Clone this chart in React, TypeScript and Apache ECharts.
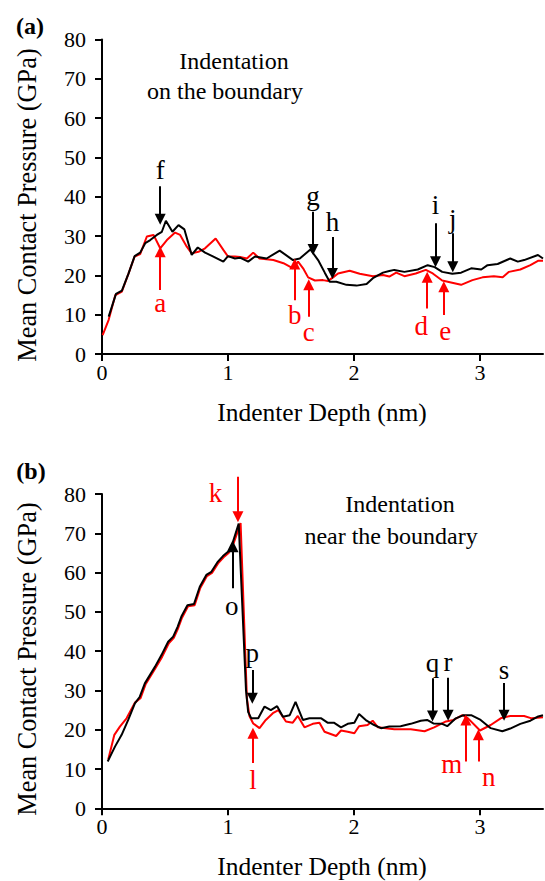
import React, { useEffect, useRef } from "react";
import * as echarts from "echarts";

// ---------- data: [depth (nm), mean contact pressure (GPa)] ----------
const topRed: number[][] = [
  [0.005, 4.8], [0.053, 8.7], [0.106, 15.0], [0.158, 15.9], [0.211, 20.5], [0.259, 24.8], [0.303, 25.4],
  [0.356, 29.9], [0.409, 30.3], [0.462, 26.9], [0.515, 29.0], [0.58, 30.9], [0.62, 30.3], [0.673, 27.3],
  [0.712, 25.6], [0.765, 26.0], [0.818, 26.9], [0.902, 29.4], [0.963, 26.5], [1.0, 24.8], [1.055, 24.8],
  [1.095, 24.7], [1.15, 24.3], [1.2, 25.8], [1.25, 24.3], [1.36, 23.9], [1.44, 23.1], [1.516, 21.8],
  [1.556, 23.5], [1.596, 21.8], [1.636, 19.5], [1.69, 18.7], [1.754, 18.8], [1.794, 18.6], [1.834, 19.5],
  [1.873, 20.5], [1.966, 21.2], [2.045, 20.4], [2.15, 19.8], [2.23, 20.1], [2.28, 19.7], [2.335, 20.7],
  [2.4, 19.8], [2.49, 20.5], [2.57, 21.4], [2.625, 20.5], [2.7, 18.7], [2.77, 18.2], [2.85, 17.6],
  [2.94, 18.8], [3.02, 19.5], [3.11, 19.8], [3.18, 19.5], [3.23, 20.9], [3.32, 21.5], [3.4, 22.6],
  [3.46, 23.7], [3.5, 23.7],
];
const topBlack: number[][] = [
  [0.053, 9.5], [0.111, 15.3], [0.158, 16.1], [0.211, 20.5], [0.259, 24.9], [0.303, 25.8], [0.343, 28.2],
  [0.383, 29.0], [0.435, 30.3], [0.475, 31.1], [0.507, 33.9], [0.559, 31.1], [0.607, 32.8], [0.654, 31.7],
  [0.712, 25.2], [0.76, 27.1], [0.818, 25.8], [0.884, 24.8], [0.963, 23.5], [1.0, 24.9], [1.055, 24.3],
  [1.095, 24.5], [1.16, 23.5], [1.214, 24.8], [1.306, 24.3], [1.41, 26.3], [1.516, 23.9], [1.57, 24.3],
  [1.654, 26.6], [1.715, 23.9], [1.768, 20.7], [1.807, 18.4], [1.86, 18.4], [1.94, 17.6], [2.02, 17.4],
  [2.1, 17.8], [2.15, 19.3], [2.23, 20.7], [2.28, 21.1], [2.32, 21.4], [2.4, 20.9], [2.506, 21.5],
  [2.585, 22.6], [2.64, 22.1], [2.7, 20.9], [2.78, 20.4], [2.85, 20.7], [2.93, 21.8], [3.01, 21.5],
  [3.06, 22.6], [3.14, 22.9], [3.24, 24.3], [3.3, 23.5], [3.35, 23.9], [3.46, 25.2], [3.5, 24.3],
];
const bottomRed: number[][] = [
  [0.05, 12.5], [0.098, 18.7], [0.142, 20.8], [0.195, 22.9], [0.261, 26.9], [0.305, 28.0], [0.345, 31.5],
  [0.385, 33.6], [0.425, 35.7], [0.478, 38.6], [0.53, 42.0], [0.57, 43.4], [0.605, 45.9], [0.635, 48.5],
  [0.683, 51.4], [0.735, 51.7], [0.78, 56.1], [0.833, 59.1], [0.873, 59.9], [0.925, 62.5], [0.965, 63.9],
  [1.005, 65.0], [1.045, 67.5], [1.1, 72.6], [1.15, 28.0], [1.17, 23.5], [1.2, 21.6], [1.25, 20.4],
  [1.3, 22.5], [1.356, 24.2], [1.4, 25.0], [1.46, 22.1], [1.514, 21.8], [1.554, 23.5], [1.607, 20.6],
  [1.673, 21.5], [1.726, 21.8], [1.766, 19.5], [1.858, 18.4], [1.897, 19.8], [1.95, 19.5], [2.003, 19.1],
  [2.04, 20.9], [2.108, 21.2], [2.148, 22.3], [2.19, 20.6], [2.253, 20.4], [2.32, 20.1], [2.45, 20.1],
  [2.56, 19.6], [2.636, 20.6], [2.73, 22.1], [2.79, 22.5], [2.86, 23.7], [2.905, 22.9], [3.0, 19.8],
  [3.085, 21.2], [3.164, 22.9], [3.24, 23.5], [3.35, 23.5], [3.41, 22.9], [3.5, 23.2],
];
const bottomBlack: number[][] = [
  [0.045, 11.9], [0.103, 15.7], [0.156, 18.7], [0.208, 22.5], [0.261, 26.7], [0.3, 28.4], [0.34, 31.8],
  [0.38, 33.9], [0.42, 36.0], [0.472, 39.0], [0.525, 42.4], [0.565, 43.7], [0.6, 46.2], [0.63, 48.8],
  [0.678, 51.7], [0.73, 52.0], [0.776, 56.4], [0.828, 59.4], [0.868, 60.2], [0.92, 62.8], [0.96, 64.2],
  [1.0, 65.3], [1.04, 67.9], [1.085, 72.5], [1.143, 30.0], [1.16, 24.5], [1.185, 22.9], [1.24, 22.9],
  [1.29, 25.9], [1.34, 25.0], [1.39, 26.0], [1.436, 23.3], [1.49, 23.7], [1.536, 27.1], [1.594, 22.5],
  [1.646, 22.9], [1.74, 22.9], [1.79, 21.8], [1.84, 21.8], [1.897, 20.6], [1.95, 21.5], [2.003, 21.8],
  [2.04, 24.0], [2.1, 22.3], [2.16, 21.2], [2.214, 20.4], [2.28, 20.8], [2.37, 20.9], [2.45, 21.5],
  [2.53, 22.3], [2.58, 22.5], [2.63, 21.6], [2.7, 21.5], [2.74, 20.9], [2.808, 22.9], [2.87, 23.7],
  [2.93, 23.7], [3.005, 22.5], [3.085, 20.4], [3.177, 19.6], [3.24, 20.3], [3.32, 21.5], [3.4, 22.3],
  [3.455, 23.3], [3.5, 23.7],
];

// ---------- axes ----------
const xTicks = [0, 1, 2, 3];
const yTicks = [0, 10, 20, 30, 40, 50, 60, 70, 80];

// ---------- annotations (data coords): letter, arrow x, arrow start y, arrow tip y, letter x, letter y ----------
type Note = [string, number, number, number, number, number];
const topBlackNotes: Note[] = [
  ["f", 0.462, 42.7, 34.3, 0.462, 46.8],
  ["g", 1.675, 36.2, 26.6, 1.675, 40.3],
  ["h", 1.829, 29.8, 20.5, 1.829, 33.5],
  ["i", 2.647, 33.3, 23.5, 2.647, 38.0],
  ["j", 2.784, 30.7, 22.2, 2.784, 34.4],
];
const topRedNotes: Note[] = [
  ["a", 0.462, 16.3, 26.0, 0.462, 12.9],
  ["b", 1.53, 13.7, 22.9, 1.53, 9.9],
  ["c", 1.641, 9.5, 17.6, 1.641, 5.5],
  ["d", 2.581, 11.6, 19.5, 2.534, 7.0],
  ["e", 2.713, 9.9, 17.1, 2.724, 5.9],
];
const bottomBlackNotes: Note[] = [
  ["o", 1.04, 56.0, 66.6, 1.03, 51.5],
  ["p", 1.193, 35.2, 28.0, 1.193, 39.5],
  ["q", 2.623, 33.1, 23.5, 2.623, 37.0],
  ["r", 2.747, 33.2, 23.7, 2.747, 37.2],
  ["s", 3.191, 31.9, 23.7, 3.191, 35.2],
];
const bottomRedNotes: Note[] = [
  ["l", 1.198, 11.5, 19.1, 1.198, 7.2],
  ["m", 2.888, 11.9, 22.5, 2.775, 11.3],
  ["n", 2.987, 11.9, 18.7, 3.07, 8.0],
];
// note that sits above the 80 GPa top of panel (b): drawn on an overlay scale reaching 90 GPa
const bottomRedHighNotes: Note[] = [["k", 1.079, 84.4, 74.2, 0.9, 80.3]];

const SERIF = "Liberation Serif";

function marks(color: string, notes: Note[]) {
  return {
    markLine: {
      silent: true,
      symbol: ["none", "triangle"],
      symbolSize: 11,
      label: { show: false },
      lineStyle: { color, width: 2, type: "solid" },
      itemStyle: { color },
      emphasis: { disabled: true },
      data: notes.map((n) => [{ coord: [n[1], n[2]] }, { coord: [n[1], n[3]] }]),
    },
    markPoint: {
      silent: true,
      symbol: "circle",
      symbolSize: 0,
      itemStyle: { color: "transparent" },
      label: {
        show: true,
        position: "inside",
        color,
        fontFamily: SERIF,
        fontSize: 27,
        formatter: (p: any) => p.name,
      },
      data: notes.map((n) => ({ name: n[0], coord: [n[4], n[5]] })),
    },
  };
}

function makeSeries(data: number[][], color: string, notes: Note[], idx: number) {
  return {
    type: "line",
    xAxisIndex: idx,
    yAxisIndex: idx,
    data,
    showSymbol: false,
    symbol: "none",
    clip: false,
    silent: true,
    lineStyle: { color, width: 2 },
    itemStyle: { color },
    ...marks(color, notes),
  };
}

function axisPair(idx: number) {
  const axisLine = { show: true, onZero: false, lineStyle: { color: "#000", width: 2 } };
  const axisTick = { show: true, inside: false, length: 7, lineStyle: { color: "#000", width: 2 } };
  return {
    x: {
      type: "value",
      gridIndex: idx,
      min: 0,
      max: 3.5,
      interval: 1,
      axisLine,
      axisTick: { ...axisTick, customValues: xTicks },
      splitLine: { show: false },
      axisLabel: {
        customValues: xTicks,
        color: "#000",
        fontFamily: SERIF,
        fontSize: 22,
        margin: 7,
      },
    },
    y: {
      type: "value",
      gridIndex: idx,
      min: 0,
      max: 80,
      interval: 10,
      axisLine,
      axisTick: { ...axisTick, customValues: yTicks },
      splitLine: { show: false },
      axisLabel: {
        customValues: yTicks,
        color: "#000",
        fontFamily: SERIF,
        fontSize: 22,
        margin: 16,
      },
    },
  };
}

function txt(text: string, x: number, y: number, size: number, extra: any = {}) {
  return {
    type: "text",
    x,
    y,
    rotation: extra.rotation || 0,
    silent: true,
    style: {
      text,
      fill: "#000",
      fontFamily: SERIF,
      fontSize: size,
      fontWeight: extra.bold ? "bold" : "normal",
      textAlign: "center",
      textVerticalAlign: "middle",
    },
  };
}

export default function App() {
  const ref = useRef<HTMLDivElement>(null);
  useEffect(() => {
    if (!ref.current) return;
    const chart = echarts.init(ref.current, undefined, { renderer: "svg" });
    const a0 = axisPair(0);
    const a1 = axisPair(1);
    const pxPerUnit = 314.3 / 80;
    chart.setOption({
      animation: false,
      backgroundColor: "#fff",
      grid: [
        { left: 102, right: 2, top: 39.6, height: 314.4, containLabel: false, outerBoundsMode: "none" },
        { left: 102, right: 2, top: 494, height: 314.3, containLabel: false, outerBoundsMode: "none" },
        {
          left: 102, right: 2, top: 494 - 10 * pxPerUnit, height: 314.3 + 10 * pxPerUnit,
          containLabel: false, outerBoundsMode: "none",
        },
      ],
      xAxis: [a0.x, a1.x, { type: "value", gridIndex: 2, min: 0, max: 3.5, show: false }],
      yAxis: [a0.y, a1.y, { type: "value", gridIndex: 2, min: 0, max: 90, show: false }],
      series: [
        makeSeries(topRed, "#ff0000", topRedNotes, 0),
        makeSeries(topBlack, "#000000", topBlackNotes, 0),
        makeSeries(bottomRed, "#ff0000", bottomRedNotes, 1),
        makeSeries(bottomBlack, "#000000", bottomBlackNotes, 1),
        {
          type: "line",
          xAxisIndex: 2,
          yAxisIndex: 2,
          data: [],
          silent: true,
          ...marks("#ff0000", bottomRedHighNotes),
        },
      ],
      graphic: [
        txt("(a)", 30, 26, 24, { bold: true }),
        txt("(b)", 31, 471, 24, { bold: true }),
        txt("Indentation", 234, 61, 24),
        txt("on the boundary", 225, 91, 24),
        txt("Indentation", 400, 504, 24),
        txt("near the boundary", 391, 536, 24),
        txt("Mean Contact Pressure (GPa)", 27, 205, 26.3, { rotation: Math.PI / 2 }),
        txt("Mean Contact Pressure (GPa)", 27, 659, 26.3, { rotation: Math.PI / 2 }),
        txt("Indenter Depth (nm)", 322, 412, 25.5),
        txt("Indenter Depth (nm)", 322, 866, 25.5),
      ],
    });
    return () => chart.dispose();
  }, []);
  return <div ref={ref} style={{ width: 545, height: 881, position: "absolute", left: 0, top: 0 }} />;
}
